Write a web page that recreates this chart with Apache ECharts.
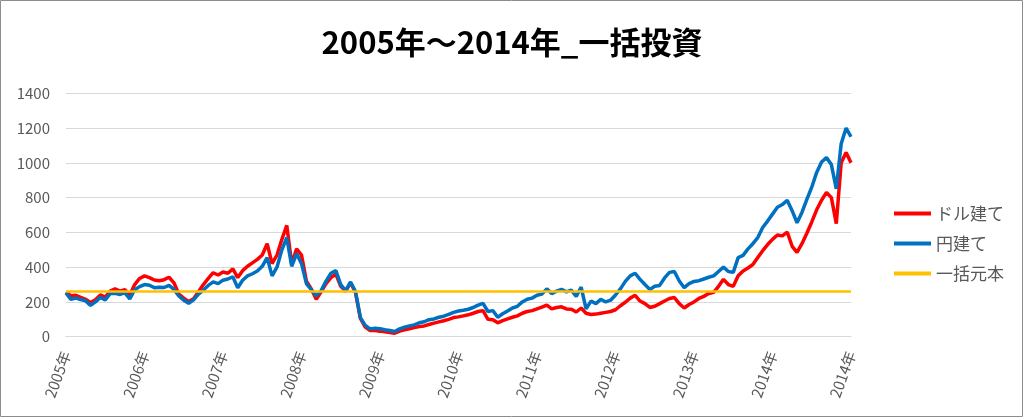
<!DOCTYPE html>
<html><head><meta charset="utf-8">
<script src="https://cdn.jsdelivr.net/npm/echarts@6/dist/echarts.min.js"></script>
<style>html,body{margin:0;padding:0;background:#fff}#c{width:1024px;height:418px}</style>
</head><body><div id="c"></div>
<script>
const tickLabels = ['2005年','2006年','2007年','2008年','2009年','2010年','2011年','2012年','2013年','2014年','2014年'];
const pointsPerTick = 16;
const dollarValues = [
258,235,238,226,215,196,212,240,228,262,275,262,270,240,300,335,
350,340,326,322,328,342,310,245,222,202,218,258,300,335,368,355,
372,365,390,340,380,405,425,445,470,535,420,470,560,640,420,505,
470,320,275,215,258,305,340,360,290,262,310,255,105,55,35,35,
32,28,24,20,32,40,46,52,58,62,70,78,85,92,100,110,
114,120,126,135,145,150,100,98,80,92,102,112,120,135,145,150,
160,170,182,160,168,172,160,158,142,165,135,128,130,135,140,145,
155,178,198,222,238,205,190,168,175,190,205,220,225,190,165,185,
200,220,232,248,255,290,330,300,290,350,378,395,415,455,495,530,
560,585,580,602,520,485,535,595,660,730,785,830,800,650,1000,1060,
1000
];
const yenValues = [
252,215,222,214,206,180,200,226,212,248,250,243,252,218,270,288,
300,296,282,285,283,295,272,235,210,192,212,245,268,295,315,305,
325,332,345,282,325,350,362,378,405,455,350,400,500,570,405,478,
420,305,270,235,265,320,365,380,300,265,315,260,110,65,45,48,
46,40,36,30,45,55,62,68,80,86,98,102,112,118,128,140,
148,152,158,168,182,192,145,150,112,132,148,165,175,200,215,222,
238,245,275,248,262,272,258,268,232,285,160,205,190,215,200,210,
240,275,318,350,365,330,300,272,290,295,338,370,375,320,282,305,
318,322,332,342,350,375,400,375,370,455,468,505,535,570,628,665,
705,745,760,785,725,655,715,790,860,945,1005,1030,990,850,1110,1200,
1150
];
const principal = 260;
const seriesNames = ['ドル建て','円建て','一括元本'];
const seriesColors = ['#FF0000','#0070C0','#FFC000'];

const categories = dollarValues.map((v,i)=>tickLabels[Math.floor(i/pointsPerTick)]);
const principalValues = dollarValues.map(()=>principal);

const chart = echarts.init(document.getElementById('c'), null, {renderer:'canvas'});
const font = '"Noto Sans CJK JP","Noto Sans",sans-serif';
chart.setOption({
  animation:false,
  backgroundColor:'#fff',
  title:{text:'2005年～2014年_一括投資',left:'center',top:22,
    textStyle:{fontFamily:font,fontSize:31,fontWeight:'bold',color:'#000'}},
  graphic:[{type:'rect',shape:{x:0.5,y:0.5,width:1022,height:416},
    style:{fill:'none',stroke:'#8c8c8c',lineWidth:1},silent:true}],
  legend:{orient:'vertical',left:889,top:200,itemWidth:37,itemHeight:4,itemGap:13,
    icon:'rect',data:seriesNames,
    textStyle:{fontFamily:font,fontSize:17,color:'#595959'}},
  grid:{left:66,right:173,top:93.3,bottom:81.3,containLabel:false},
  xAxis:{type:'category',data:categories,boundaryGap:false,
    axisLine:{lineStyle:{color:'#d9d9d9',width:1}},
    axisTick:{show:false},
    axisLabel:{interval:pointsPerTick-1,rotate:70,margin:15,
      fontFamily:font,fontSize:15,color:'#595959'},
    splitLine:{show:false}},
  yAxis:{type:'value',min:0,max:1400,interval:200,
    axisLine:{show:false},axisTick:{show:false},
    axisLabel:{margin:16,fontFamily:font,fontSize:15,color:'#595959',
      formatter:v=>String(v)},
    splitLine:{lineStyle:{color:'#d9d9d9',width:1}}},
  series:[
    {name:seriesNames[0],type:'line',data:dollarValues,symbol:'none',
      lineStyle:{color:seriesColors[0],width:3.5},itemStyle:{color:seriesColors[0]}},
    {name:seriesNames[1],type:'line',data:yenValues,symbol:'none',
      lineStyle:{color:seriesColors[1],width:3.5},itemStyle:{color:seriesColors[1]}},
    {name:seriesNames[2],type:'line',data:principalValues,symbol:'none',
      lineStyle:{color:seriesColors[2],width:2.5},itemStyle:{color:seriesColors[2]}}
  ]
});
</script></body></html>
